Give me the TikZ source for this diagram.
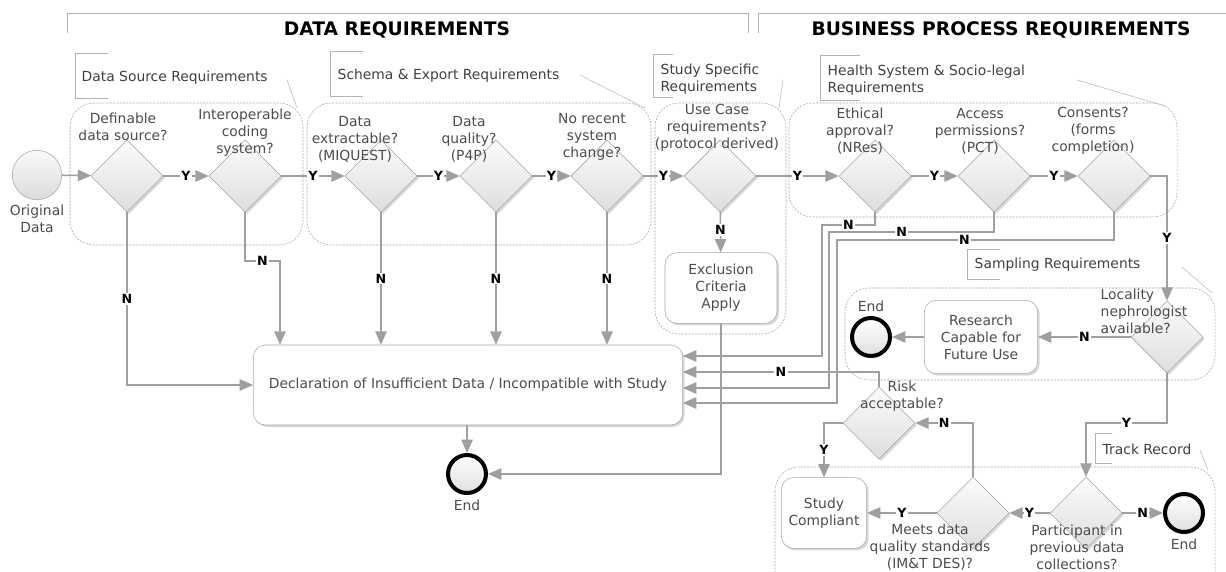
\documentclass[tikz,border=0pt]{standalone}
\usepackage{fontspec}
\setmainfont{DejaVu Sans}
\usetikzlibrary{shapes.geometric,arrows.meta,shadows}

\begin{document}
\begin{tikzpicture}[x=0.75pt, y=-0.75pt,
    font=\fontsize{10.4}{12.75}\selectfont,
    decision/.style={diamond, draw=gray!70, top color=gray!3, bottom color=gray!26, minimum width=54pt, minimum height=54pt, inner sep=0pt, drop shadow={opacity=.3, shadow xshift=1.5pt, shadow yshift=-1.5pt}},
    task/.style={rectangle, rounded corners=9pt, draw=gray!70, fill=white, text=black!70, align=center, drop shadow={opacity=.3, shadow xshift=1.5pt, shadow yshift=-1.5pt}},
    endevent/.style={circle, draw=black, line width=3pt, top color=white, bottom color=gray!25, minimum size=28.5pt, inner sep=0pt, label distance=2pt},
    startevent/.style={circle, draw=gray!70, top color=gray!4, bottom color=gray!28, minimum size=37pt, inner sep=0pt},
    qtext/.style={align=center, text=black!70},
    flow/.style={draw=gray!75, line width=1.2pt, -{Triangle[length=10pt,width=8.5pt]}},
    yn/.style={fill=white, inner sep=1pt, text=black, font=\fontsize{9.5}{11}\selectfont\bfseries},
    grp/.style={draw=gray!70, dash pattern=on 1.5pt off 1pt, rounded corners=18pt},
    brk/.style={draw=gray!60, thin},
    lead/.style={draw=gray!55, thin},
    note/.style={anchor=west, align=left, text=black!75},
    head/.style={font=\fontsize{14}{16}\selectfont\bfseries}
]
\useasboundingbox (0,0) rectangle (1226,571);
\clip (0,0) rectangle (1226,571);
\fill[white] (0,0) rectangle (1226,571);

\draw[brk] (67,33) -- (67,13) -- (748,13) -- (748,33);
\draw[brk] (758,33) -- (758,13) -- (1226,13);
\node[head] (datareq) at (397,30) {DATA REQUIREMENTS};
\node[head] (bizreq) at (1001,30) {BUSINESS PROCESS REQUIREMENTS};

\draw[grp] (70,103) rectangle (303,245);
\draw[grp] (307,103) rectangle (651,245);
\draw[grp] (655,103) rectangle (786,334);
\draw[grp] (789,103) rectangle (1177,217);
\draw[grp] (845,288) rectangle (1215,380);
\draw[grp] (775,467) rectangle (1215,620);

\draw[brk] (108,53) -- (75,53) -- (75,98) -- (108,98);
\node[note] (srcnote) at (77,78) {Data Source Requirements};
\draw[lead] (287,80) -- (297,108);
\draw[brk] (363,51) -- (330,51) -- (330,96) -- (363,96);
\node[note] (schemanote) at (333,76) {Schema \& Export Requirements};
\draw[lead] (580,75) -- (645,108);
\draw[brk] (673,54) -- (653,54) -- (653,97) -- (673,97);
\node[note] (studynote) at (656,79) {Study Specific\\Requirements};
\draw[lead] (783,80) -- (779,108);
\draw[brk] (860,55) -- (820,55) -- (820,100) -- (860,100);
\node[note] (healthnote) at (823,80) {Health System \& Socio-legal\\Requirements};
\draw[lead] (1077,80) -- (1165,106);
\draw[brk] (1000,249) -- (967,249) -- (967,279) -- (1000,279);
\node[note] (samplenote) at (970,265) {Sampling Requirements};
\draw[lead] (1182,267) -- (1212,293);
\draw[brk] (1112,433) -- (1095,433) -- (1095,463) -- (1112,463);
\node[note] (tracknote) at (1098,449) {Track Record};
\draw[lead] (1200,450) -- (1208,470);

\node[startevent, label={[qtext]below:Original\\Data}] (orig) at (37,175) {};
\node[decision] (d1) at (127,176) {};
\node[decision] (d2) at (245,176) {};
\node[decision] (d3) at (381,176) {};
\node[decision] (d4) at (496,176) {};
\node[decision] (d5) at (607,176) {};
\node[decision] (d6) at (720,176) {};
\node[decision] (d7) at (875,176) {};
\node[decision] (d8) at (994,176) {};
\node[decision] (d9) at (1114,176) {};
\node[decision] (loc) at (1167,337) {};
\node[decision] (risk) at (879,423) {};
\node[decision] (meets) at (973,513) {};
\node[decision] (part) at (1086,513) {};

\node[qtext] (d1q) at (123,127) {Definable\\data source?};
\node[qtext] (d2q) at (245,133) {Interoperable\\coding\\system?};
\node[qtext] (d3q) at (355,139) {Data\\extractable?\\(MIQUEST)};
\node[qtext] (d4q) at (469,139) {Data\\quality?\\(P4P)};
\node[qtext] (d5q) at (592,137) {No recent\\system\\change?};
\node[qtext] (d6q) at (717,128) {Use Case\\requirements?\\(protocol derived)};
\node[qtext] (d7q) at (860,131) {Ethical\\approval?\\(NRes)};
\node[qtext] (d8q) at (980,131) {Access\\permissions?\\(PCT)};
\node[qtext] (d9q) at (1093,131) {Consents?\\(forms\\completion)};
\node[qtext, anchor=west, align=left] (locq) at (1096,311) {Locality\\nephrologist\\available?};
\node[qtext] (riskq) at (902,396) {Risk\\acceptable?};
\node[qtext] (meetsq) at (930,547) {Meets data\\quality standards\\(IM\&T DES)?};
\node[qtext] (partq) at (1077,547) {Participant in\\previous data\\collections?};

\node[task, minimum width=322pt, minimum height=60pt] (decl) at (468,385) {Declaration of Insufficient Data / Incompatible with Study};
\node[task, minimum width=84pt, minimum height=53pt] (excl) at (721,288) {Exclusion\\Criteria\\Apply};
\node[task, minimum width=85pt, minimum height=55pt] (res) at (981,337) {Research\\Capable for\\Future Use};
\node[task, minimum width=64pt, minimum height=53pt] (comp) at (824,513) {Study\\Compliant};

\node[endevent, label={[qtext]below:End}] (end1) at (467,474) {};
\node[endevent, label={[qtext]above:End}] (end2) at (871,337) {};
\node[endevent, label={[qtext]below:End}] (end3) at (1184,513) {};

\draw[flow] (orig) -- (d1);
\draw[flow] (d1) -- node[yn]{Y} (d2);
\draw[flow] (d2) -- node[yn]{Y} (d3);
\draw[flow] (d3) -- node[yn]{Y} (d4);
\draw[flow] (d4) -- node[yn]{Y} (d5);
\draw[flow] (d5) -- node[yn]{Y} (d6);
\draw[flow] (d6) -- node[yn]{Y} (d7);
\draw[flow] (d7) -- node[yn]{Y} (d8);
\draw[flow] (d8) -- node[yn]{Y} (d9);

\draw[flow] (d1) |- node[yn,pos=.25]{N} (decl);
\coordinate (c2) at (280,261);
\draw[flow] (d2) |- node[yn,pos=.75]{N} (c2) -- (c2 |- decl.north);
\draw[flow] (d3) -- node[yn]{N} (d3 |- decl.north);
\draw[flow] (d4) -- node[yn]{N} (d4 |- decl.north);
\draw[flow] (d5) -- node[yn]{N} (d5 |- decl.north);
\draw[flow] (d6) -- node[yn,pos=.45]{N} (excl);
\draw[flow] (excl) |- (end1);
\draw[flow] (decl.south -| end1) -- (end1);

\draw[flow] (d7) |- node[yn,pos=.75]{N} (822,225) |- ([yshift=21.75pt]decl.east);
\draw[flow] (d8) |- node[yn,pos=.78]{N} (829,232) |- ([yshift=-2.25pt]decl.east);
\draw[flow] (d9) |- node[yn,pos=.77]{N} (837,240) |- ([yshift=-13.5pt]decl.east);
\draw[flow] (risk) |- node[yn,pos=.75]{N} ([yshift=9.75pt]decl.east);

\draw[flow] (d9) -| node[yn,pos=.75]{Y} (loc);
\draw[flow] (loc) -- node[yn]{N} (res);
\draw[flow] (res) -- (end2);
\draw[flow] (loc.south) -- ++(0,50) -| node[yn,pos=.25]{Y} (part);
\draw[flow] (part) -- node[yn]{N} (end3);
\draw[flow] (part) -- node[yn]{Y} (meets);
\draw[flow] (meets) -- node[yn]{Y} (comp);
\draw[flow] (meets) |- node[yn,pos=.75]{N} (risk);
\draw[flow] (risk) -| node[yn,pos=.75]{Y} (comp);
\end{tikzpicture}
\end{document}
